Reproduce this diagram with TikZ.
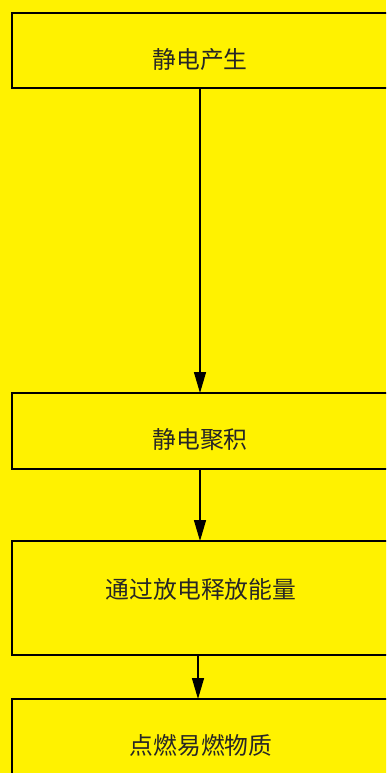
\documentclass[tikz,border=0pt]{standalone}
\usepackage{fontspec}
\newfontfamily\cjk{Noto Sans CJK SC}
\usetikzlibrary{arrows.meta}
\begin{document}
\begin{tikzpicture}[x=1pt,y=-1pt,
  box/.style={draw=black,line width=1.6pt,fill=yellow},
  lbl/.style={font=\cjk\fontsize{23.8}{28}\selectfont,text=black!85},
  conn/.style={line width=1.4pt,-{Triangle[length=21pt,width=12pt]}}]
\useasboundingbox (0,0) rectangle (386,773);
\clip (0,0) rectangle (386,773);
\fill[yellow] (0,0) rectangle (386,773);
\draw[box] (12,13) rectangle (400,88);
\draw[box] (12,393) rectangle (400,469);
\draw[box] (12,541) rectangle (400,655);
\draw[box] (12,699) rectangle (400,790);
\node[lbl] (a) at (200,60) {静电产生};
\node[lbl] (b) at (200,440) {静电聚积};
\node[lbl] (c) at (201,589) {通过放电释放能量};
\node[lbl] (d) at (201,745) {点燃易燃物质};
\coordinate (a1) at (200,88);
\coordinate (b0) at (200,393);
\coordinate (b1) at (200,469);
\coordinate (c0) at (200,541);
\coordinate (c1) at (198,655);
\coordinate (d0) at (198,699);
\draw[conn] (a1) -- (b0);
\draw[conn] (b1) -- (c0);
\draw[conn] (c1) -- (d0);
\end{tikzpicture}
\end{document}
